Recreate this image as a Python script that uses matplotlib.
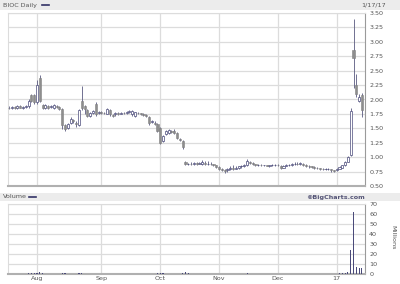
import numpy as np
import pandas as pd
import matplotlib
matplotlib.use("Agg")
import matplotlib.pyplot as plt

# trading days 2016-07-18 .. 2017-01-17
holidays = ["2016-09-05", "2016-11-24", "2016-12-26", "2017-01-02", "2017-01-16"]
dates = pd.bdate_range("2016-07-18", "2017-01-17", freq="C", holidays=holidays)

# daily OHLC (estimated from the chart)
opens = [1.86, 1.85, 1.87, 1.86, 1.88, 1.86, 1.87, 1.88, 2.07, 2.07,              # Jul
         1.95, 2.38, 1.90, 1.85, 1.88, 1.87, 1.85, 1.88, 1.87, 1.84, 1.56, 1.50,  # Aug
         1.60, 1.64, 1.60, 1.56, 1.98, 1.89, 1.81, 1.72, 1.76, 1.93, 1.76,
         1.78, 1.77, 1.75, 1.82, 1.73, 1.74, 1.76, 1.75, 1.77, 1.76, 1.78,        # Sep
         1.74, 1.72, 1.77, 1.76, 1.74, 1.73, 1.69, 1.61, 1.60, 1.58,
         1.51, 1.28, 1.40, 1.42, 1.45, 1.46, 1.42, 1.32, 1.28, 0.91, 0.88,        # Oct
         0.89, 0.88, 0.90, 0.89, 0.89, 0.90, 0.88, 0.89, 0.88, 0.86,
         0.83, 0.80, 0.78, 0.77, 0.80, 0.81, 0.80, 0.82, 0.84, 0.85, 0.86,        # Nov
         0.92, 0.90, 0.88, 0.86, 0.87, 0.86, 0.86, 0.85, 0.86, 0.87,
         0.87, 0.85, 0.82, 0.85, 0.86, 0.87, 0.88, 0.89, 0.88, 0.89, 0.87,        # Dec
         0.85, 0.84, 0.83, 0.82, 0.81, 0.80, 0.79, 0.79, 0.79, 0.77,
         0.78, 0.80, 0.82, 0.86, 0.92, 1.04, 2.85, 2.25, 1.98, 2.07]              # Jan
closes = [1.85, 1.87, 1.86, 1.88, 1.86, 1.87, 1.88, 1.98, 1.98, 1.95,
          2.25, 1.98, 1.86, 1.90, 1.86, 1.88, 1.90, 1.87, 1.84, 1.55, 1.48, 1.58,
          1.67, 1.62, 1.58, 1.82, 1.86, 1.84, 1.72, 1.76, 1.80, 1.74, 1.78,
          1.77, 1.76, 1.84, 1.74, 1.72, 1.76, 1.75, 1.77, 1.76, 1.78, 1.80,
          1.80, 1.78, 1.76, 1.75, 1.73, 1.72, 1.60, 1.62, 1.58, 1.46,
          1.25, 1.37, 1.45, 1.47, 1.44, 1.42, 1.34, 1.30, 1.17, 0.89, 0.89,
          0.88, 0.90, 0.89, 0.90, 0.91, 0.88, 0.89, 0.88, 0.86, 0.83,
          0.80, 0.78, 0.76, 0.80, 0.82, 0.80, 0.82, 0.84, 0.85, 0.86, 0.93,
          0.90, 0.88, 0.86, 0.87, 0.86, 0.86, 0.85, 0.86, 0.87, 0.87,
          0.86, 0.82, 0.85, 0.86, 0.87, 0.88, 0.89, 0.88, 0.90, 0.87, 0.85,
          0.84, 0.83, 0.82, 0.81, 0.80, 0.79, 0.79, 0.80, 0.77, 0.76,
          0.80, 0.83, 0.86, 0.92, 1.00, 1.80, 2.72, 2.10, 2.05, 1.82]
highs = [1.88, 1.89, 1.89, 1.90, 1.90, 1.89, 1.90, 2.00, 2.09, 2.09,
         2.33, 2.42, 1.92, 1.92, 1.90, 1.90, 1.92, 1.90, 1.89, 1.86, 1.58, 1.60,
         1.69, 1.66, 1.62, 1.84, 2.23, 1.91, 1.83, 1.78, 1.82, 1.95, 1.80,
         1.80, 1.79, 1.86, 1.83, 1.75, 1.78, 1.78, 1.79, 1.79, 1.80, 1.82,
         1.81, 1.79, 1.78, 1.77, 1.76, 1.75, 1.71, 1.64, 1.62, 1.59,
         1.52, 1.38, 1.47, 1.48, 1.47, 1.48, 1.43, 1.33, 1.29, 0.93, 0.90,
         0.91, 0.92, 0.91, 0.92, 0.95, 0.93, 0.94, 0.91, 0.89, 0.87,
         0.84, 0.81, 0.79, 0.81, 0.84, 0.86, 0.84, 0.85, 0.86, 0.88, 0.97,
         0.93, 0.91, 0.89, 0.88, 0.88, 0.87, 0.87, 0.87, 0.88, 0.89,
         0.89, 0.86, 0.86, 0.88, 0.89, 0.90, 0.91, 0.91, 0.92, 0.90, 0.88,
         0.86, 0.85, 0.84, 0.83, 0.82, 0.81, 0.81, 0.81, 0.80, 0.78,
         0.81, 0.84, 0.87, 0.93, 1.02, 1.85, 3.40, 2.45, 2.10, 2.12]
lows = [1.83, 1.84, 1.84, 1.84, 1.85, 1.84, 1.85, 1.86, 1.95, 1.92,
        1.92, 1.95, 1.83, 1.83, 1.84, 1.85, 1.83, 1.85, 1.82, 1.48, 1.45, 1.48,
        1.58, 1.59, 1.52, 1.54, 1.82, 1.75, 1.70, 1.70, 1.74, 1.72, 1.74,
        1.75, 1.74, 1.74, 1.72, 1.70, 1.72, 1.73, 1.74, 1.75, 1.74, 1.76,
        1.72, 1.70, 1.74, 1.73, 1.71, 1.70, 1.55, 1.59, 1.56, 1.44,
        1.22, 1.26, 1.38, 1.40, 1.42, 1.40, 1.32, 1.28, 1.14, 0.87, 0.86,
        0.86, 0.87, 0.87, 0.88, 0.87, 0.87, 0.86, 0.86, 0.84, 0.81,
        0.78, 0.76, 0.73, 0.75, 0.78, 0.78, 0.79, 0.80, 0.82, 0.83, 0.85,
        0.88, 0.86, 0.85, 0.84, 0.84, 0.84, 0.84, 0.83, 0.84, 0.85,
        0.84, 0.80, 0.81, 0.84, 0.85, 0.85, 0.86, 0.86, 0.87, 0.85, 0.83,
        0.82, 0.81, 0.80, 0.79, 0.78, 0.77, 0.77, 0.77, 0.75, 0.74,
        0.76, 0.79, 0.81, 0.85, 0.91, 1.02, 2.20, 2.05, 1.95, 1.70]
# volume in millions
volume = [0.3, 0.2, 0.3, 0.2, 0.3, 0.2, 0.3, 0.6, 0.8, 0.6,
          1.5, 2.0, 0.6, 0.4, 0.3, 0.3, 0.3, 0.3, 0.4, 1.2, 0.8, 0.5,
          0.4, 0.3, 0.3, 0.9, 1.4, 0.5, 0.4, 0.3, 0.3, 0.5, 0.3,
          0.3, 0.2, 0.3, 0.3, 0.2, 0.2, 0.2, 0.2, 0.2, 0.2, 0.3,
          0.3, 0.2, 0.2, 0.2, 0.2, 0.2, 0.5, 0.3, 0.3, 0.6,
          1.2, 0.6, 0.4, 0.3, 0.3, 0.3, 0.4, 0.3, 0.7, 1.8, 0.6,
          0.4, 0.3, 0.3, 0.3, 0.4, 0.3, 0.3, 0.3, 0.3, 0.4,
          0.4, 0.3, 0.4, 0.3, 0.3, 0.3, 0.2, 0.2, 0.2, 0.3, 0.6,
          0.3, 0.2, 0.2, 0.2, 0.2, 0.2, 0.2, 0.2, 0.2, 0.2,
          0.2, 0.3, 0.2, 0.2, 0.2, 0.2, 0.2, 0.2, 0.3, 0.2, 0.2,
          0.2, 0.2, 0.2, 0.2, 0.2, 0.2, 0.2, 0.2, 0.2, 0.3,
          0.4, 0.6, 0.8, 1.2, 1.8, 24.0, 62.0, 7.5, 6.5, 6.0]

month_labels = ["Aug", "Sep", "Oct", "Nov", "Dec", "17"]

x = np.arange(len(dates))
o = np.array(opens); c = np.array(closes)
h = np.array(highs); l = np.array(lows)
up = c >= o

# first trading day of each month for the gridlines
months = pd.Series(x, index=dates).groupby([dates.year, dates.month]).first()
month_pos = list(months.values[1:])

W, H = 400, 284
fig = plt.figure(figsize=(W / 100, H / 100), dpi=100)
fig.patch.set_facecolor("white")

grid_c = "#dcdcdc"
txt_c = "#555555"
fs = 4.6
xlim = (-0.36, len(dates) + 0.1)

# header bars
fig.patches.append(plt.Rectangle((0, 1 - 10 / H), 1, 10 / H, transform=fig.transFigure,
                                 facecolor="#ececec", edgecolor="none"))
fig.patches.append(plt.Rectangle((0, 1 - 201 / H), 1, 8 / H, transform=fig.transFigure,
                                 facecolor="#ececec", edgecolor="none"))
fig.text(3 / W, 1 - 5 / H, "BIOC Daily", fontsize=fs, color=txt_c, va="center", ha="left")
fig.add_artist(plt.Line2D([42 / W, 49 / W], [1 - 5 / H, 1 - 5 / H], color="#333366", lw=1.2))
fig.text(386 / W, 1 - 5 / H, "1/17/17", fontsize=fs, color=txt_c, va="center", ha="right")
fig.text(3 / W, 1 - 197 / H, "Volume", fontsize=fs, color=txt_c, va="center", ha="left")
fig.add_artist(plt.Line2D([29 / W, 36 / W], [1 - 197 / H, 1 - 197 / H], color="#333366", lw=1.2))
fig.text(365 / W, 1 - 197 / H, "\u00a9BigCharts.com", fontsize=fs, color="#555577",
         fontweight="bold", va="center", ha="right")

# price panel
ax = fig.add_axes([8 / W, 1 - 186 / H, 357 / W, 173 / H])
ax.set_xlim(*xlim)
ax.set_ylim(0.5, 3.5)
ax.set_yticks(np.arange(0.5, 3.51, 0.25))
ax.set_yticklabels([f"{v:.2f}" for v in np.arange(0.5, 3.51, 0.25)])
ax.yaxis.tick_right()
ax.set_xticks(month_pos)
ax.set_xticklabels([])
ax.tick_params(length=0, labelsize=fs, colors=txt_c, pad=3)
ax.grid(True, color=grid_c, lw=0.9)
ax.set_axisbelow(True)

ax.vlines(x, l, h, color="#5a5a80", lw=0.6, zorder=2)
ax.bar(x[up], (c - o)[up], bottom=o[up], width=0.75, facecolor="white",
       edgecolor="#4a4a7a", lw=0.5, zorder=3)
ax.bar(x[~up], (o - c)[~up], bottom=c[~up], width=0.75, facecolor="#8e8e8e",
       edgecolor="#808080", lw=0.4, zorder=3)

for s in ["left", "top"]:
    ax.spines[s].set_color(grid_c)
ax.spines["right"].set_color("#9a9a9a")
ax.spines["bottom"].set_color("#b0b0b0")
ax.spines["bottom"].set_linewidth(1.5)

# volume panel
av = fig.add_axes([8 / W, 1 - 274 / H, 357 / W, 70 / H])
av.set_xlim(*xlim)
av.set_ylim(0, 70)
av.set_yticks(range(0, 71, 10))
av.yaxis.tick_right()
av.set_xticks(month_pos)
av.set_xticklabels(month_labels)
av.tick_params(length=0, labelsize=fs, colors=txt_c, pad=3)
av.tick_params(axis="x", pad=1.5)
av.grid(True, color=grid_c, lw=0.9)
av.set_axisbelow(True)
av.bar(x, volume, width=0.4, color="#4a4a7a", zorder=3)
for s in ["left", "top"]:
    av.spines[s].set_color(grid_c)
av.spines["right"].set_color("#9a9a9a")
av.spines["bottom"].set_color("#b0b0b0")
av.spines["bottom"].set_linewidth(1.5)
fig.text(393 / W, 1 - 237 / H, "Millions", fontsize=fs, color=txt_c, rotation=270,
         va="center", ha="center")

fig.savefig("out.png", dpi=100)
